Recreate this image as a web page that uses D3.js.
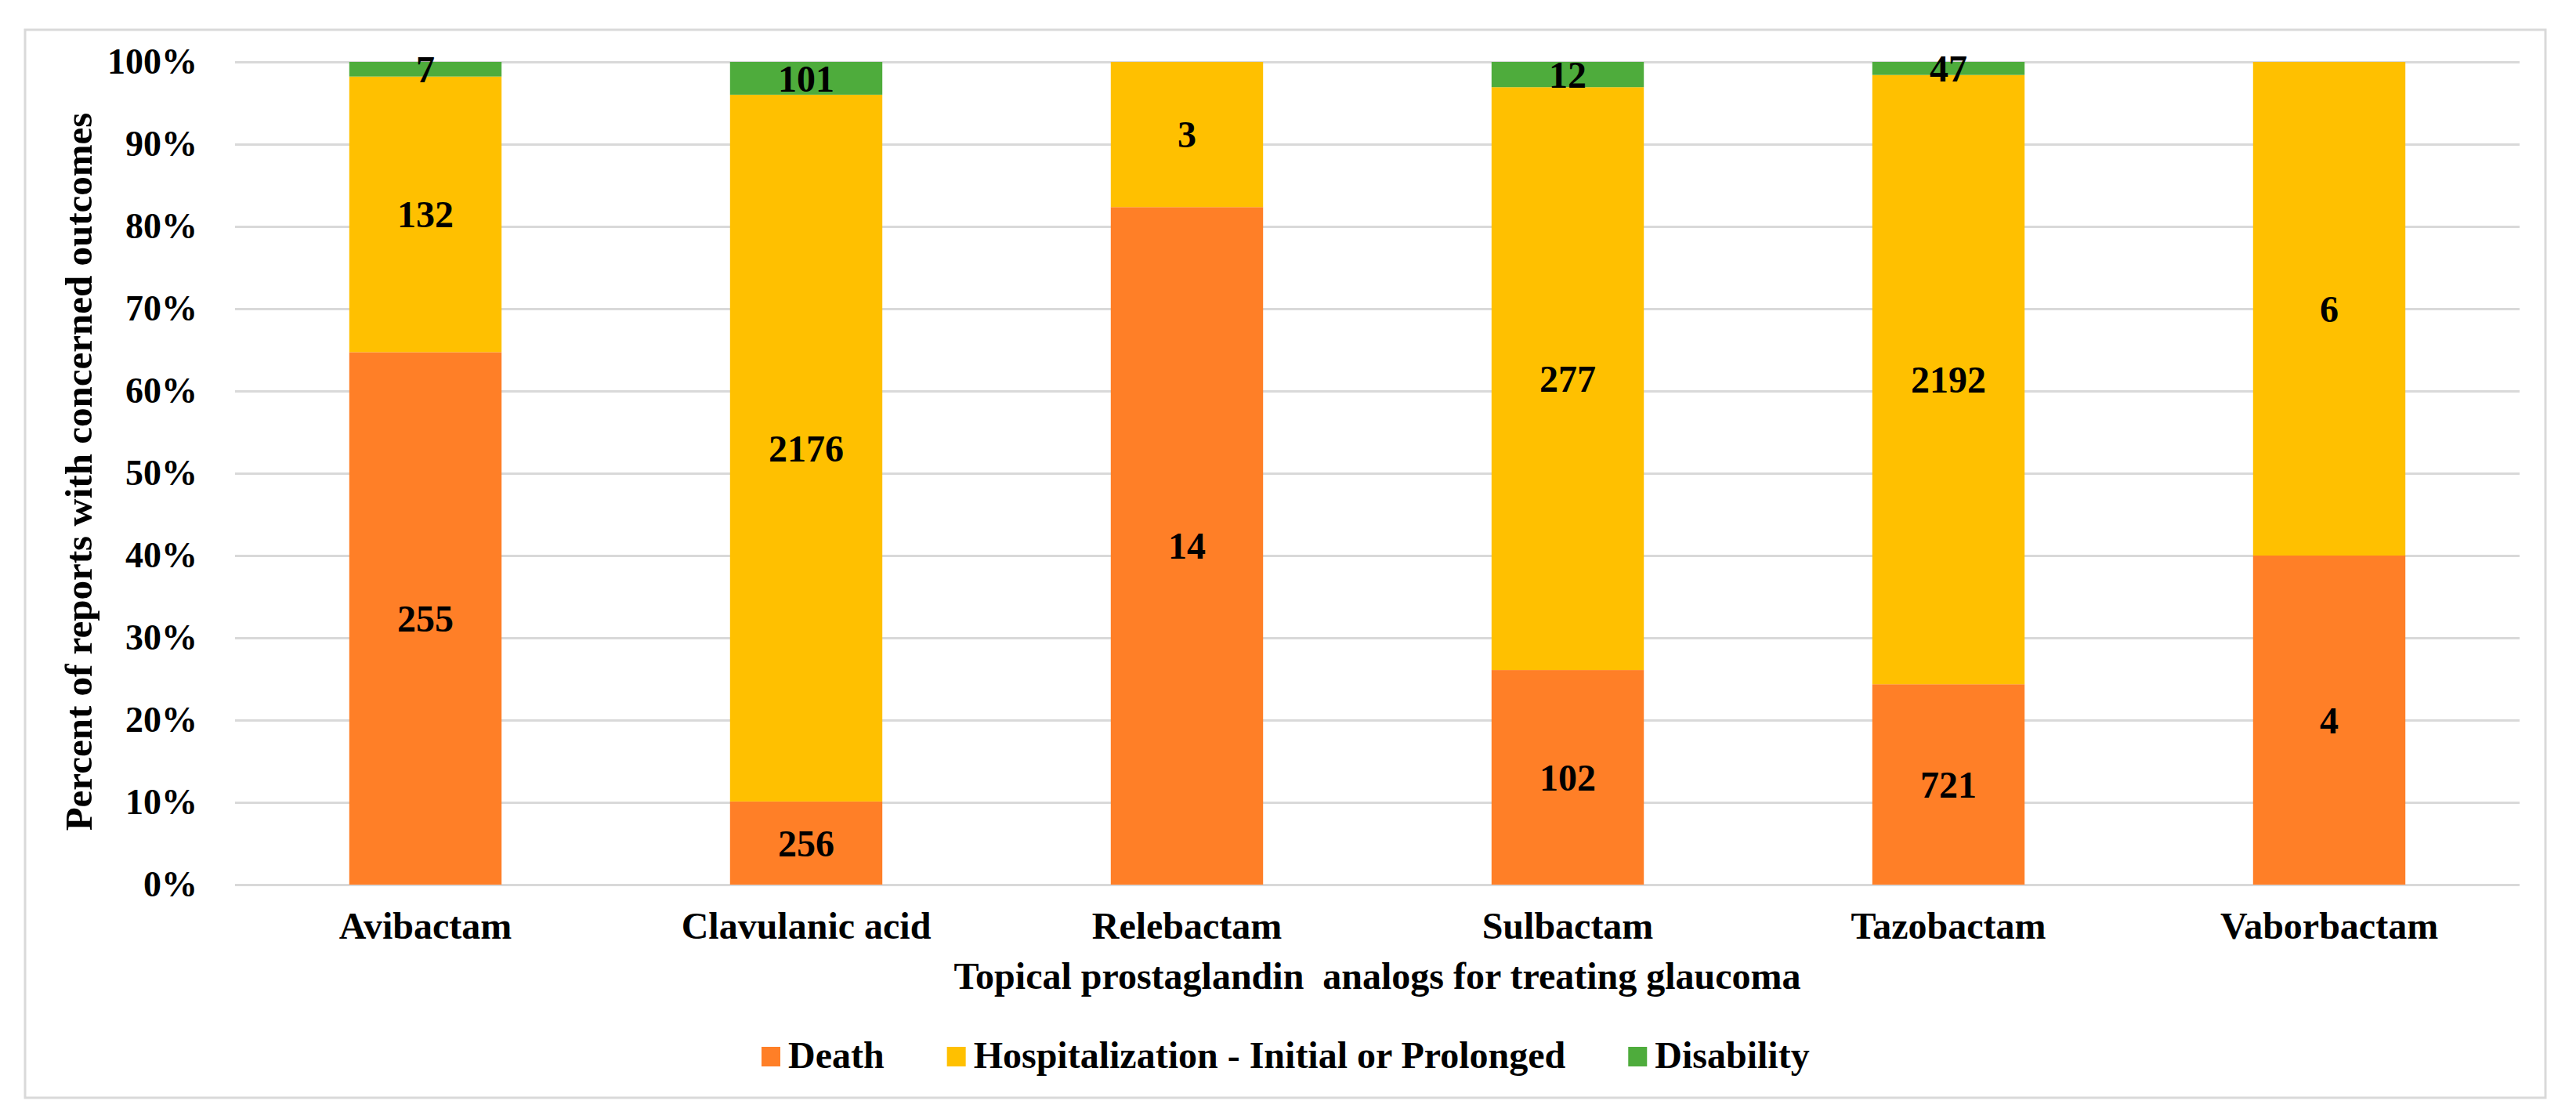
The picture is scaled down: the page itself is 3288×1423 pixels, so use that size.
<!DOCTYPE html>
<html>
<head>
<meta charset="utf-8">
<script src="https://cdn.jsdelivr.net/npm/d3@7"></script>
<style>
    body { margin: 0; background: #fff; }
    text { font-family: 'Liberation Serif', 'Times New Roman', serif; font-weight: bold; fill: #000; }
</style>
</head>
<body>
<div class="chart"></div>
<script>
const categories = ['Avibactam', 'Clavulanic acid', 'Relebactam', 'Sulbactam', 'Tazobactam', 'Vaborbactam'];
const death = [255, 256, 14, 102, 721, 4];
const hospitalization = [132, 2176, 3, 277, 2192, 6];
const disability = [7, 101, 0, 12, 47, 0];
const seriesNames = ['Death', 'Hospitalization - Initial or Prolonged', 'Disability'];
const seriesColors = ['#FF7F27', '#FFC000', '#4EAC3C'];
const yTicks = [0, 0.1, 0.2, 0.3, 0.4, 0.5, 0.6, 0.7, 0.8, 0.9, 1];

const width = 3288, height = 1423;
const plot = { left: 300, right: 3216, top: 79, bottom: 1129 };

const rows = categories.map((c, i) => {
    const total = death[i] + hospitalization[i] + disability[i];
    return {
        name: c,
        counts: [death[i], hospitalization[i], disability[i]],
        0: death[i] / total,
        1: hospitalization[i] / total,
        2: disability[i] / total
    };
});

const stack = d3.stack().keys([0, 1, 2]);
const layers = stack(rows);

const x = d3.scaleBand()
    .domain(categories)
    .range([plot.left, plot.right])
    .paddingInner(0.6)
    .paddingOuter(0.3);

const y = d3.scaleLinear()
    .domain([0, 1])
    .range([plot.bottom, plot.top]);

const svg = d3.select('.chart')
    .append('svg')
        .attr('width', width)
        .attr('height', height);

svg.append('rect')
    .attr('width', width)
    .attr('height', height)
    .attr('fill', '#fff');

// outer chart border
svg.append('rect')
    .attr('x', 32)
    .attr('y', 38)
    .attr('width', 3217)
    .attr('height', 1363)
    .attr('fill', 'none')
    .attr('stroke', '#d9d9d9')
    .attr('stroke-width', 3);

// gridlines + y axis
const yAxis = svg.append('g')
    .attr('transform', `translate(${plot.left},0)`)
    .call(d3.axisLeft(y)
        .tickValues(yTicks)
        .tickFormat(d3.format('.0%'))
        .tickSize(-(plot.right - plot.left))
        .tickPadding(48));
yAxis.select('.domain').remove();
yAxis.selectAll('.tick line')
    .attr('stroke', '#d9d9d9')
    .attr('stroke-width', 3);
yAxis.selectAll('.tick text')
    .style('font-size', '46px')
    .style('font-family', "'Liberation Serif', serif")
    .style('font-weight', 'bold');

// bars
const layer = svg.append('g')
    .selectAll('g')
    .data(layers)
    .enter()
        .append('g')
        .attr('fill', (d, i) => seriesColors[i]);

layer.selectAll('rect')
    .data(d => d.map(s => ({ s, key: d.key })))
    .enter()
        .append('rect')
        .attr('x', d => x(d.s.data.name))
        .attr('y', d => y(d.s[1]))
        .attr('width', x.bandwidth())
        .attr('height', d => y(d.s[0]) - y(d.s[1]));

layer.selectAll('text')
    .data(d => d.map(s => ({ s, key: d.key })).filter(d => d.s.data.counts[d.key] > 0))
    .enter()
        .append('text')
        .attr('x', d => x(d.s.data.name) + x.bandwidth() / 2)
        .attr('y', d => y((d.s[0] + d.s[1]) / 2))
        .attr('dy', '0.35em')
        .attr('text-anchor', 'middle')
        .style('font-size', '48px')
        .text(d => d.s.data.counts[d.key]);

// category labels
const xAxis = svg.append('g')
    .attr('transform', `translate(0,${plot.bottom})`)
    .call(d3.axisBottom(x).tickSize(0).tickPadding(0));
xAxis.select('.domain').remove();
xAxis.selectAll('.tick text')
    .attr('y', 69)
    .attr('dy', 0)
    .style('font-size', '48px')
    .style('font-family', "'Liberation Serif', serif")
    .style('font-weight', 'bold');

// axis titles
svg.append('text')
    .attr('x', (plot.left + plot.right) / 2)
    .attr('y', 1262)
    .attr('text-anchor', 'middle')
    .style('font-size', '48px')
    .style('white-space', 'pre')
    .text('Topical prostaglandin  analogs for treating glaucoma');

svg.append('text')
    .attr('transform', `translate(117,602) rotate(-90)`)
    .attr('text-anchor', 'middle')
    .style('font-size', '49px')
    .text('Percent of reports with concerned outcomes');

// legend
const legend = svg.append('g')
    .attr('transform', 'translate(972,1336)');
let lx = 0;
seriesNames.forEach((name, i) => {
    legend.append('rect')
        .attr('x', lx)
        .attr('y', 0)
        .attr('width', 24)
        .attr('height', 25)
        .attr('fill', seriesColors[i]);
    const t = legend.append('text')
        .attr('x', lx + 34)
        .attr('y', 27)
        .style('font-size', '48px')
        .text(name);
    lx += 34 + t.node().getComputedTextLength() + 80;
});
</script>
</body>
</html>
